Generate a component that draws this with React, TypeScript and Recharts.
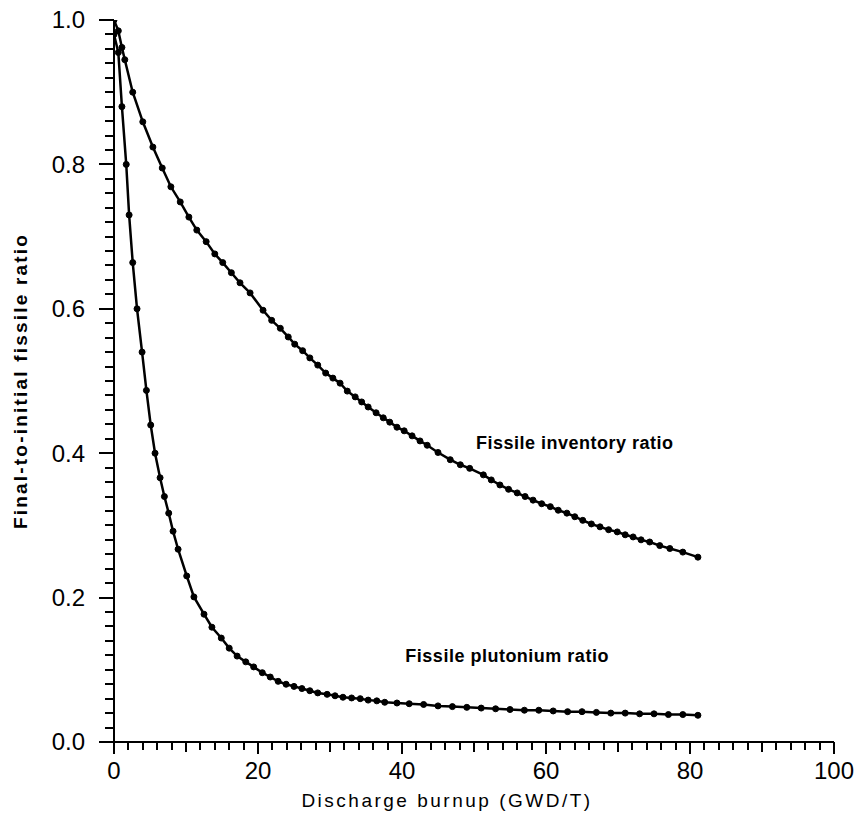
import { LineChart, Line, XAxis, YAxis, ReferenceDot, Label } from 'recharts';

type Point = { x: number; y: number };

// burnup (GWD/T) and ratio
const inventoryBurnup = [
  0, 0.6, 1.1, 1.5, 2.6, 4.0, 5.4, 6.7, 7.9, 9.2, 10.4, 11.5, 12.8, 14.0, 15.1, 16.3, 17.5,
  18.9, 20.7, 21.9, 23.1, 24.2, 25.1, 26.2, 27.2, 28.3, 29.4, 30.4, 31.4, 32.4, 33.5, 34.4,
  35.3, 36.4, 37.4, 38.3, 39.3, 40.3, 41.4, 42.5, 43.5, 45.0, 46.7, 48.1, 49.4, 51.3, 52.4,
  53.6, 54.8, 56.0, 57.1, 58.2, 59.4, 60.6, 61.7, 62.9, 64.0, 65.1, 66.3, 67.5, 68.7, 69.9,
  71.0, 72.1, 73.2, 74.4, 75.8, 77.2, 79.0, 81.1,
];
const inventoryRatio = [
  1.0, 0.985, 0.962, 0.945, 0.9, 0.859, 0.824, 0.795, 0.769, 0.748, 0.727, 0.709, 0.693, 0.676,
  0.664, 0.65, 0.636, 0.622, 0.598, 0.584, 0.573, 0.561, 0.551, 0.542, 0.532, 0.522, 0.511,
  0.504, 0.497, 0.486, 0.478, 0.471, 0.464, 0.456, 0.449, 0.443, 0.436, 0.431, 0.424, 0.417,
  0.411, 0.401, 0.391, 0.384, 0.379, 0.37, 0.363, 0.356, 0.35, 0.345, 0.34, 0.335, 0.33, 0.326,
  0.321, 0.317, 0.312, 0.307, 0.302, 0.298, 0.294, 0.291, 0.287, 0.284, 0.28, 0.277, 0.272,
  0.268, 0.263, 0.256,
];

const plutoniumBurnup = [
  0, 0.6, 1.1, 1.7, 2.1, 2.6, 3.2, 3.9, 4.5, 5.1, 5.7, 6.4, 7.0, 7.6, 8.2, 8.9, 10.1, 11.1,
  12.5, 13.6, 14.9, 16.0, 17.1, 18.3, 19.4, 20.6, 21.7, 22.8, 23.9, 25.0, 26.1, 27.2, 28.3,
  29.6, 30.7, 31.8, 33.0, 34.2, 35.3, 36.5, 37.6, 39.3, 41, 43, 45, 47, 49, 51, 53, 55, 57,
  59, 61, 63, 65, 67, 69, 71, 73, 75, 77, 79, 81.1,
];
const plutoniumRatio = [
  0.98, 0.955, 0.88, 0.8, 0.73, 0.664, 0.6, 0.54, 0.487, 0.439, 0.4, 0.366, 0.34, 0.317, 0.292,
  0.267, 0.23, 0.201, 0.177, 0.159, 0.144, 0.13, 0.119, 0.111, 0.104, 0.096, 0.09, 0.084, 0.08,
  0.077, 0.074, 0.071, 0.068, 0.066, 0.064, 0.062, 0.061, 0.06, 0.058, 0.057, 0.055, 0.054,
  0.053, 0.052, 0.05, 0.049, 0.048, 0.047, 0.046, 0.045, 0.044, 0.044, 0.043, 0.042, 0.042,
  0.041, 0.04, 0.04, 0.039, 0.039, 0.038, 0.038, 0.037,
];

const xLabels = [0, 20, 40, 60, 80, 100];
const yLabels = [0, 0.2, 0.4, 0.6, 0.8, 1.0];

const inventory: Point[] = inventoryBurnup.map((x, i) => ({ x, y: inventoryRatio[i] }));
const plutonium: Point[] = plutoniumBurnup.map((x, i) => ({ x, y: plutoniumRatio[i] }));

// minor ticks every 2 GWD/T and every 0.02
const xTicks = Array.from({ length: 51 }, (_, i) => i * 2);
const yTicks = Array.from({ length: 51 }, (_, i) => Math.round(i * 2) / 100);

const FONT = '"Liberation Sans", Arial, sans-serif';

const XTick = (props: any) => {
  const { x, y, payload } = props;
  const v = payload.value;
  const major = xLabels.includes(v);
  const len = major ? 12 : v % 10 === 0 ? 10 : 8;
  const px = Math.round(x);
  return (
    <g>
      <path d={`M${px},${y}V${y + len}`} stroke="#000" strokeWidth={2} fill="none" />
      {major && (
        <text x={x} y={y + 29} dy="0.35em" textAnchor="middle" fontSize={24} fontFamily={FONT} fill="#000">
          {v}
        </text>
      )}
    </g>
  );
};

const YTick = (props: any) => {
  const { x, y, payload } = props;
  const v = payload.value;
  const major = yLabels.some((l) => Math.abs(l - v) < 1e-6);
  const len = major ? 15 : 9;
  const py = Math.round(y);
  return (
    <g>
      <path d={`M${x - len},${py}H${x}`} stroke="#000" strokeWidth={2} fill="none" />
      {major && (
        <text x={x - 29} y={y} dy="0.35em" textAnchor="end" fontSize={24} fontFamily={FONT} fill="#000">
          {v.toFixed(1)}
        </text>
      )}
    </g>
  );
};

const dotStyle = { r: 3, fill: '#000', stroke: '#000', strokeWidth: 1 };

export default function App() {
  return (
    <div style={{ marginTop: -4 }}>
      <LineChart width={847} height={810} margin={{ top: 16, right: 21, bottom: 0, left: 4 }}>
        <XAxis
          dataKey="x"
          type="number"
          domain={[0, 100]}
          ticks={xTicks}
          interval={0}
          tickSize={0}
          tickMargin={0}
          tickLine={false}
          tick={(p: any) => <XTick {...p} />}
          axisLine={{ stroke: '#000', strokeWidth: 2 }}
          height={72}
          allowDataOverflow
        >
          <Label
            value="Discharge burnup (GWD/T)"
            position="insideBottom"
            offset={7}
            dx={-27}
            fontSize={19}
            fontFamily={FONT}
            letterSpacing={2.5}
            fill="#000"
          />
        </XAxis>
        <YAxis
          type="number"
          domain={[0, 1]}
          ticks={yTicks}
          interval={0}
          tickSize={0}
          tickMargin={0}
          tickLine={false}
          tick={(p: any) => <YTick {...p} />}
          axisLine={{ stroke: '#000', strokeWidth: 2 }}
          width={102}
          allowDataOverflow
        >
          <Label
            value="Final-to-initial fissile ratio"
            position="insideLeft"
            angle={-90}
            offset={8}
            fontSize={19}
            fontWeight="bold"
            fontFamily={FONT}
            letterSpacing={2.2}
            fill="#000"
            style={{ textAnchor: 'middle' }}
          />
        </YAxis>
        <Line
          data={inventory}
          dataKey="y"
          type="linear"
          stroke="#000"
          strokeWidth={2.5}
          dot={dotStyle}
          activeDot={false}
          isAnimationActive={false}
        />
        <Line
          data={plutonium}
          dataKey="y"
          type="linear"
          stroke="#000"
          strokeWidth={2.5}
          dot={dotStyle}
          activeDot={false}
          isAnimationActive={false}
        />
        <ReferenceDot
          x={64}
          y={0.415}
          r={1}
          fill="none"
          stroke="none"
          label={{
            value: 'Fissile inventory ratio',
            position: 'center',
            fontSize: 18,
            fontWeight: 'bold',
            fontFamily: FONT,
            letterSpacing: 0.5,
            fill: '#000',
          }}
        />
        <ReferenceDot
          x={54.6}
          y={0.12}
          r={1}
          fill="none"
          stroke="none"
          label={{
            value: 'Fissile plutonium ratio',
            position: 'center',
            fontSize: 18,
            fontWeight: 'bold',
            fontFamily: FONT,
            letterSpacing: 0.5,
            fill: '#000',
          }}
        />
      </LineChart>
    </div>
  );
}
